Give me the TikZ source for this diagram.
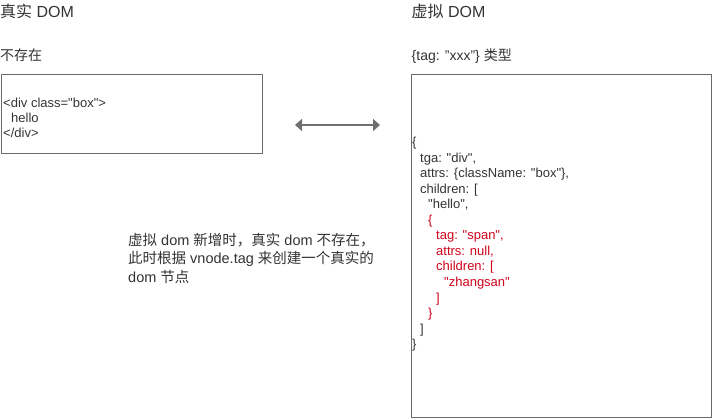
\documentclass[tikz,border=0pt]{standalone}
\usepackage{fontspec}
\setmainfont{Liberation Sans}[Ligatures=TeXOff]
\newfontfamily\cjk{Noto Sans CJK SC}
\usetikzlibrary{arrows.meta}
\definecolor{txtgray}{HTML}{333333}
\definecolor{linegray}{HTML}{6A6A6A}
\definecolor{arrowgray}{HTML}{707070}
\definecolor{codered}{HTML}{D0021B}
\begin{document}
\begin{tikzpicture}[
            x=1pt,
            y=-1pt,
            title/.style={anchor=base west, inner sep=0pt, text=txtgray, font=\fontsize{16}{19}\selectfont},
            sub/.style={anchor=base west, inner sep=0pt, text=txtgray, font=\fontsize{14}{17}\selectfont},
            codeline/.style={anchor=base west, inner sep=0pt, text=txtgray, font=\fontsize{13}{15}\selectfont},
            frame/.style={draw=linegray, line width=1pt, inner sep=0pt, anchor=north west}
        ]
        \useasboundingbox (0,0) rectangle (712,418);

        \node[title] (realtitle) at (0,17.3) {{\cjk 真实} DOM};
        \node[sub] (realsub) at (0,60) {\cjk 不存在};
        \node[title] (virttitle) at (411.5,17.3) {{\cjk 虚拟} DOM};
        \node[sub] (virtsub) at (411.5,60) {\{tag: ”xxx”\} {\cjk 类型}};

        \node[frame, minimum width=261pt, minimum height=79pt] (realbox) at (0.5,74) {};
        \node[frame, minimum width=300pt, minimum height=342.5pt] (virtbox) at (410.5,74) {};

        \node[codeline] (rline0) at (3,107) {<div class="box">};
        \node[codeline] (rline1) at (11,122) {hello};
        \node[codeline] (rline2) at (3,137) {</div>};

        \foreach \n/\ind/\col/\txt in {
            0/0/txtgray/\{,
            1/1/txtgray/{tga: "div",},
            2/1/txtgray/{attrs: \{className: "box"\},},
            3/1/txtgray/children: [,
            4/2/txtgray/{"hello",},
            5/2/codered/\{,
            6/3/codered/{tag: "span",},
            7/3/codered/{attrs: null,},
            8/3/codered/children: [,
            9/4/codered/"zhangsan",
            10/3/codered/],
            11/2/codered/\},
            12/1/txtgray/],
            13/0/txtgray/\}}
            \node[codeline, text=\col] (vline\n) at ({412+8*\ind},{146.5+15.55*\n}) {\txt};

        \coordinate (arrowL) at (295,125);
        \coordinate (arrowR) at (380,125);
        \draw[arrowgray, line width=2.5pt, {Triangle[length=7pt,width=12pt]}-{Triangle[length=7pt,width=12pt]}] (arrowL) -- (arrowR);

        \node[sub, font=\fontsize{14.5}{17}\selectfont] (note1) at (128,245) {{\cjk 虚拟} dom {\cjk 新增时，真实} dom {\cjk 不存在，}};
        \node[sub, font=\fontsize{14.5}{17}\selectfont] (note2) at (128,263.5) {{\cjk 此时根据} vnode.tag {\cjk 来创建一个真实的}};
        \node[sub, font=\fontsize{14.5}{17}\selectfont] (note3) at (128,282) {dom {\cjk 节点}};

    \end{tikzpicture}
\end{document}
